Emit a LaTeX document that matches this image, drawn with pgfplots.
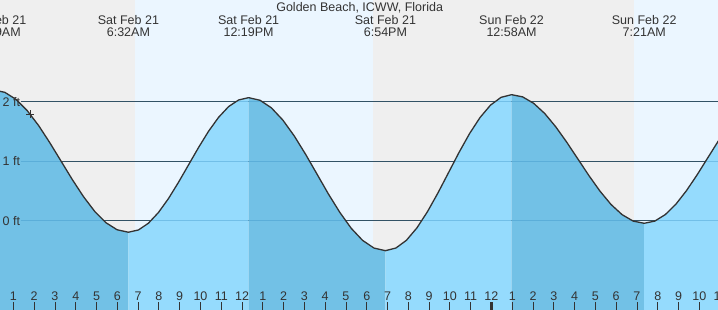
\documentclass[border=0pt]{standalone}
\usepackage{pgfplots}
\pgfplotsset{compat=1.18}
\usepackage{fontspec}
\setmainfont{Liberation Sans}
\definecolor{night}{RGB}{239,239,239}
\definecolor{day}{RGB}{235,246,255}
\definecolor{darkfill}{RGB}{114,193,230}
\definecolor{lightfill}{RGB}{149,219,253}
\definecolor{txt}{RGB}{51,51,51}
\definecolor{faint}{RGB}{50,140,195}
\begin{document}
\fontsize{12.5}{15}\selectfont
\begin{tikzpicture}
\useasboundingbox (0,0) rectangle (718pt,310pt);
\begin{axis}[at={(0,0)}, anchor=south west,
  width=718pt, height=310pt, scale only axis,
  xmin=0.356, xmax=34.9, ymin=-1.496, ymax=3.71,
  axis line style={draw=none}, axis on top=true,
  xtick={1,...,35},
  xticklabels={1,2,3,4,5,6,7,8,9,10,11,12,1,2,3,4,5,6,7,8,9,10,11,12,1,2,3,4,5,6,7,8,9,10,11},
  ytick=\empty,
  tick align=inside, major tick length=8pt, xtick pos=bottom,
  tick style={color=txt, line width=0.8pt},
  xticklabel style={anchor=base, inner sep=0pt, yshift=9.5pt, text=txt, font=\fontsize{12.5}{15}\selectfont},
  /pgf/number format/assume math mode=true,
]
% day / night background
\addplot[draw=none, fill=night] coordinates {(0,-1.6)(0,3.8)(6.85,3.8)(6.85,-1.6)} --cycle;
\addplot[draw=none, fill=day] coordinates {(6.85,-1.6)(6.85,3.8)(18.3,3.8)(18.3,-1.6)} --cycle;
\addplot[draw=none, fill=night] coordinates {(18.3,-1.6)(18.3,3.8)(30.87,3.8)(30.87,-1.6)} --cycle;
\addplot[draw=none, fill=day] coordinates {(30.87,-1.6)(30.87,3.8)(36,3.8)(36,-1.6)} --cycle;
% grid lines (behind water)
\addplot[txt, line width=0.9pt] coordinates {(1.35,0)(36,0)};
\addplot[txt, line width=0.9pt] coordinates {(1.35,1)(36,1)};
\addplot[txt, line width=0.9pt] coordinates {(1.35,2)(36,2)};
% water fills
\addplot[draw=none, fill=darkfill] coordinates {(0.05,2.20)(0.590,2.159)(1.131,2.040)(1.671,1.850)(2.211,1.603)(2.751,1.314)(3.292,1.005)(3.832,0.696)(4.372,0.408)(4.912,0.160)(5.453,-0.030)(5.993,-0.149)(6.533,-0.19)(6.533,-1.6)(0.05,-1.6)} --cycle;
\addplot[draw=none, fill=lightfill] coordinates {(6.533,-0.19)(7.015,-0.152)(7.497,-0.039)(7.979,0.141)(8.461,0.375)(8.943,0.648)(9.425,0.940)(9.907,1.232)(10.389,1.505)(10.871,1.739)(11.353,1.919)(11.835,2.031)(12.317,2.07)(12.317,-1.6)(6.533,-1.6)} --cycle;
\addplot[draw=none, fill=darkfill] coordinates {(12.317,2.07)(12.866,2.026)(13.414,1.898)(13.963,1.694)(14.511,1.428)(15.060,1.118)(15.609,0.785)(16.157,0.452)(16.706,0.143)(17.254,-0.124)(17.803,-0.328)(18.351,-0.456)(18.9,-0.50)(18.9,-1.6)(12.317,-1.6)} --cycle;
\addplot[draw=none, fill=lightfill] coordinates {(18.9,-0.50)(19.406,-0.455)(19.911,-0.325)(20.417,-0.116)(20.922,0.155)(21.428,0.471)(21.934,0.810)(22.439,1.149)(22.945,1.465)(23.450,1.736)(23.956,1.945)(24.461,2.075)(24.967,2.12)(24.967,-1.6)(18.9,-1.6)} --cycle;
\addplot[draw=none, fill=darkfill] coordinates {(24.967,2.12)(25.499,2.083)(26.031,1.975)(26.563,1.804)(27.095,1.58)(27.627,1.320)(28.159,1.04)(28.690,0.761)(29.222,0.50)(29.754,0.276)(30.286,0.105)(30.818,-0.003)(31.35,-0.04)(31.35,-1.6)(24.967,-1.6)} --cycle;
\addplot[draw=none, fill=lightfill] coordinates {(31.35,-0.04)(31.858,-0.003)(32.367,0.107)(32.875,0.281)(33.383,0.508)(33.892,0.772)(34.4,1.055)(34.908,1.338)(35.417,1.603)(35.417,-1.6)(31.35,-1.6)} --cycle;
% faint grid lines over water
\addplot[faint, opacity=0.35, line width=0.9pt] coordinates {(1.35,0)(36,0)};
\addplot[faint, opacity=0.35, line width=0.9pt] coordinates {(1.35,1)(36,1)};
\addplot[faint, opacity=0.35, line width=0.9pt] coordinates {(1.35,2)(36,2)};
% tide curve
\addplot[txt, line width=1.3pt, line join=round] coordinates {(0.05,2.20)(0.590,2.159)(1.131,2.040)(1.671,1.850)(2.211,1.603)(2.751,1.314)(3.292,1.005)(3.832,0.696)(4.372,0.408)(4.912,0.160)(5.453,-0.030)(5.993,-0.149)(6.533,-0.19)
(7.015,-0.152)(7.497,-0.039)(7.979,0.141)(8.461,0.375)(8.943,0.648)(9.425,0.940)(9.907,1.232)(10.389,1.505)(10.871,1.739)(11.353,1.919)(11.835,2.031)(12.317,2.07)
(12.866,2.026)(13.414,1.898)(13.963,1.694)(14.511,1.428)(15.060,1.118)(15.609,0.785)(16.157,0.452)(16.706,0.143)(17.254,-0.124)(17.803,-0.328)(18.351,-0.456)(18.9,-0.50)
(19.406,-0.455)(19.911,-0.325)(20.417,-0.116)(20.922,0.155)(21.428,0.471)(21.934,0.810)(22.439,1.149)(22.945,1.465)(23.450,1.736)(23.956,1.945)(24.461,2.075)(24.967,2.12)
(25.499,2.083)(26.031,1.975)(26.563,1.804)(27.095,1.58)(27.627,1.320)(28.159,1.04)(28.690,0.761)(29.222,0.50)(29.754,0.276)(30.286,0.105)(30.818,-0.003)(31.35,-0.04)
(31.858,-0.003)(32.367,0.107)(32.875,0.281)(33.383,0.508)(33.892,0.772)(34.4,1.055)(34.908,1.338)(35.417,1.603)};
% current time marker
\addplot[txt, only marks, mark=+, mark size=4pt, line width=0.9pt] coordinates {(1.8,1.79)};
% midnight tick
\addplot[txt, line width=3pt] coordinates {(24,-1.496)(24,-1.361)};
% y labels
\node[anchor=west, inner sep=0pt, text=txt] at (axis cs:0.356,2) {\hspace*{2.5pt}2 ft};
\node[anchor=west, inner sep=0pt, text=txt] at (axis cs:0.356,1) {\hspace*{2.5pt}1 ft};
\node[anchor=west, inner sep=0pt, text=txt] at (axis cs:0.356,0) {\hspace*{2.5pt}0 ft};
% partially visible last hour label at right edge
\node[anchor=base, inner sep=0pt, text=txt] at (axis cs:35,-1.336) {11};
% title
\node[anchor=base, inner sep=0pt, text=txt] at (axis cs:17.66,3.516) {Golden Beach, ICWW, Florida};
% high/low labels
\node[anchor=base, inner sep=0pt, text=txt] at (axis cs:0.15,3.303) {Sat Feb 21};
\node[anchor=base, inner sep=0pt, text=txt] at (axis cs:0.15,3.101) {12:09AM};
\node[anchor=base, inner sep=0pt, text=txt] at (axis cs:6.533,3.303) {Sat Feb 21};
\node[anchor=base, inner sep=0pt, text=txt] at (axis cs:6.533,3.101) {6:32AM};
\node[anchor=base, inner sep=0pt, text=txt] at (axis cs:12.317,3.303) {Sat Feb 21};
\node[anchor=base, inner sep=0pt, text=txt] at (axis cs:12.317,3.101) {12:19PM};
\node[anchor=base, inner sep=0pt, text=txt] at (axis cs:18.9,3.303) {Sat Feb 21};
\node[anchor=base, inner sep=0pt, text=txt] at (axis cs:18.9,3.101) {6:54PM};
\node[anchor=base, inner sep=0pt, text=txt] at (axis cs:24.967,3.303) {Sun Feb 22};
\node[anchor=base, inner sep=0pt, text=txt] at (axis cs:24.967,3.101) {12:58AM};
\node[anchor=base, inner sep=0pt, text=txt] at (axis cs:31.35,3.303) {Sun Feb 22};
\node[anchor=base, inner sep=0pt, text=txt] at (axis cs:31.35,3.101) {7:21AM};
\end{axis}
\end{tikzpicture}
\end{document}
